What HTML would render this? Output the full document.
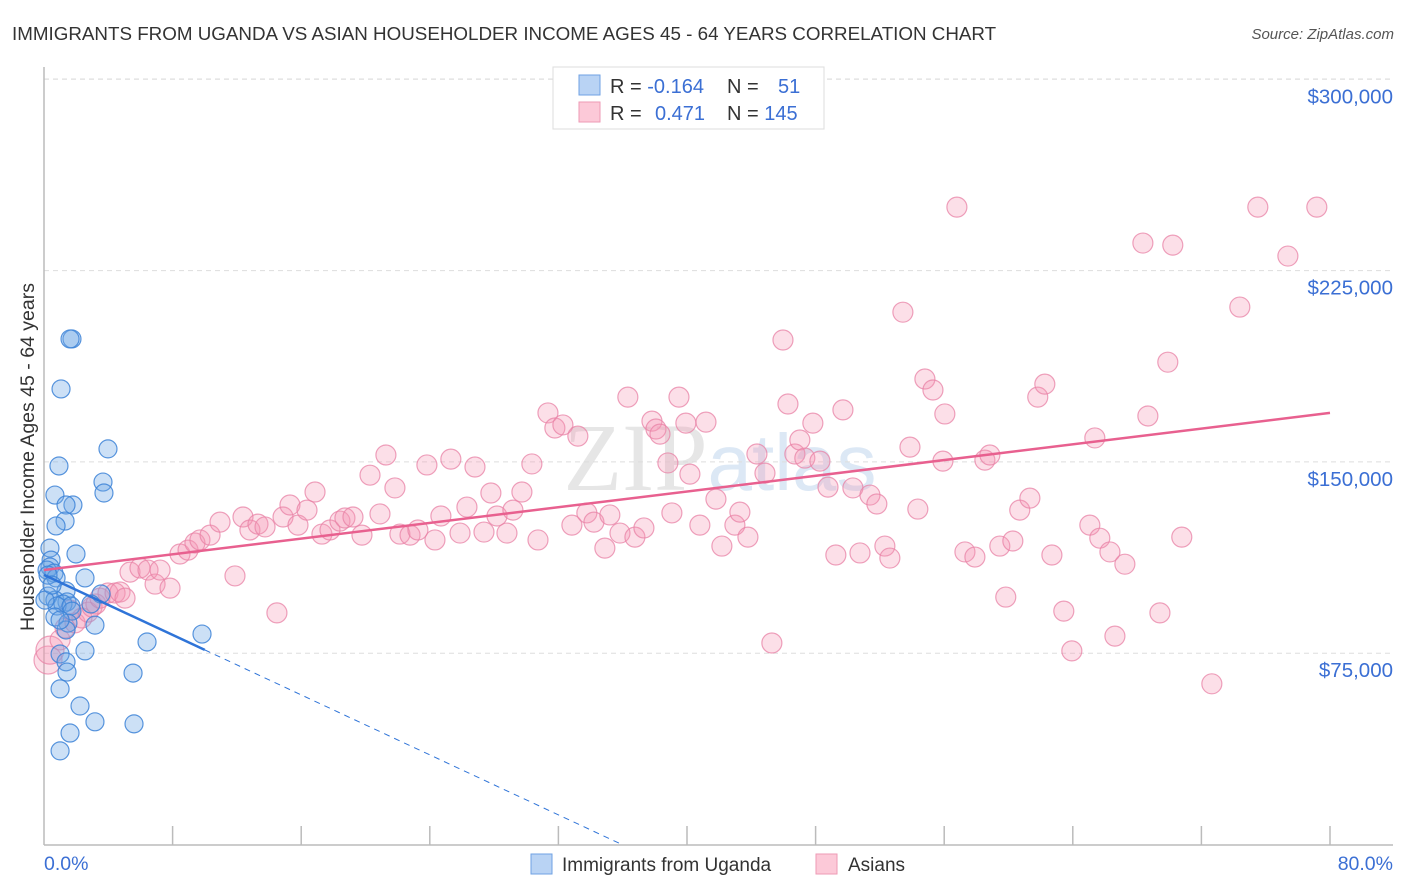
<!DOCTYPE html>
<html><head><meta charset="utf-8"><style>
body{margin:0;background:#fff;font-family:"Liberation Sans",sans-serif;}
svg{display:block}
</style></head><body>
<svg id="chart" width="1406" height="892">
<text x="12" y="40" font-size="18.8" fill="#333">IMMIGRANTS FROM UGANDA VS ASIAN HOUSEHOLDER INCOME AGES 45 - 64 YEARS CORRELATION CHART</text>
<text x="1394" y="39" font-size="15" fill="#555" font-style="italic" text-anchor="end">Source: ZipAtlas.com</text>
<text x="720" y="490" font-size="96" fill="#e6e6e6" text-anchor="middle" font-family="Liberation Serif, serif">ZIP<tspan fill="#dce8f5" font-family="Liberation Sans, sans-serif" font-size="80">atlas</tspan></text>
<g id="grid"></g>
<g id="axes"></g>
<g id="pts"></g>
<g id="trend"></g>
<text transform="translate(34,457) rotate(-90)" font-size="19.5" fill="#333" text-anchor="middle">Householder Income Ages 45 - 64 years</text>
<text x="44" y="870" font-size="19.5" fill="#3b6fd4">0.0%</text>
<text x="1393" y="870" font-size="19.5" fill="#3b6fd4" text-anchor="end">80.0%</text>
<g>
<rect x="553" y="67" width="271" height="62" fill="#fff" stroke="#ddd"/>
<rect x="579" y="75" width="21" height="20" fill="#b9d3f4" stroke="#6fa1e3"/>
<rect x="579" y="102" width="21" height="20" fill="#fcc9d8" stroke="#ee9ab5"/>
<text x="610" y="93" font-size="20" fill="#333">R = <tspan fill="#3b6fd4">-0.164</tspan></text>
<text x="727" y="93" font-size="20" fill="#333">N = <tspan fill="#3b6fd4" x="778">51</tspan></text>
<text x="610" y="120" font-size="20" fill="#333">R = <tspan fill="#3b6fd4" x="655">0.471</tspan></text>
<text x="727" y="120" font-size="20" fill="#333">N = <tspan fill="#3b6fd4">145</tspan></text>
</g>
<g>
<rect x="531" y="854" width="21" height="20" fill="#b9d3f4" stroke="#6fa1e3"/>
<text x="562" y="871" font-size="19" fill="#333">Immigrants from Uganda</text>
<rect x="816" y="854" width="21" height="20" fill="#fcc9d8" stroke="#ee9ab5"/>
<text x="848" y="871" font-size="19" fill="#333">Asians</text>
</g>
</svg>
<script>
const yTicks=[75000,150000,225000,300000];
const yTickLabels=["$75,000","$150,000","$225,000","$300,000"];
const blueX=[1.74,1.62,1.06,3.98,0.93,3.67,3.73,0.68,1.80,1.37,1.31,0.75,0.37,1.99,0.44,0.37,0.19,0.62,2.55,0.75,1.37,3.55,0.25,0.68,1.43,2.92,1.18,0.81,1.68,1.74,0.68,1.49,3.17,1.37,9.83,6.41,2.55,1.00,1.37,1.43,5.54,1.00,2.24,3.17,5.60,1.62,1.00,1.00,0.06,0.25,0.50];
const blueY=[198.2,198.2,178.6,155.1,148.4,142.1,137.8,137.0,133.1,133.1,126.8,124.9,116.2,113.9,111.5,108.8,107.6,106.4,104.5,104.5,99.4,98.2,97.4,95.8,95.1,94.3,94.3,93.5,93.5,91.5,89.2,86.8,86.0,84.1,82.5,79.4,75.9,74.7,71.6,67.6,67.2,61.0,54.3,48.1,47.3,43.7,36.7,88.0,95.8,105.6,101.7];
const pinkX=[0.25,0.37,1.0,1.31,1.62,1.93,2.36,2.74,2.99,3.23,3.48,3.98,4.42,4.73,5.04,5.35,5.97,6.47,6.91,7.22,7.84,8.46,8.96,9.39,9.70,10.33,10.95,11.88,12.38,12.81,13.31,13.75,14.49,14.87,15.30,15.80,16.36,16.86,17.29,17.79,18.41,18.72,19.22,19.78,20.28,20.90,21.27,21.83,22.14,22.77,23.26,23.82,24.32,24.69,25.31,25.88,26.31,26.81,27.37,27.80,28.18,28.80,29.17,29.73,30.35,30.73,31.35,31.78,32.28,32.84,33.21,33.77,34.21,34.89,35.20,35.83,36.32,36.76,37.32,37.82,38.07,38.32,38.81,39.06,39.50,39.93,40.18,40.80,41.18,41.80,42.17,42.98,43.29,43.79,44.35,44.85,45.28,45.97,46.28,46.71,47.02,47.33,47.83,48.27,48.77,49.26,49.70,50.32,50.76,51.38,51.81,52.31,52.62,53.43,53.87,54.36,54.80,55.30,55.92,56.04,56.79,57.29,57.91,58.53,58.84,59.46,59.83,60.27,60.70,61.33,61.82,62.26,62.70,63.44,63.94,65.37,65.06,65.68,66.31,66.62,67.24,68.36,68.67,69.42,69.91,70.22,70.78,72.65,74.39,75.51,77.38,79.18];
const pinkY=[72.3,76.2,80.2,84.9,91.9,86.9,88.8,91.1,93.1,94.3,96.6,98.6,98.6,99.0,96.6,106.8,108.4,107.6,102.1,107.6,100.5,113.9,115.4,118.2,119.4,121.3,126.4,105.3,128.4,123.3,125.6,124.5,90.8,128.4,133.1,125.2,131.1,138.2,121.7,123.3,126.8,128.0,128.4,121.3,144.8,129.6,152.7,139.8,121.7,121.3,123.3,148.8,119.4,128.8,151.1,122.1,132.3,148.0,122.5,137.8,128.8,122.1,131.1,138.2,149.2,119.4,169.2,163.3,164.5,125.2,160.1,130.0,126.4,116.2,129.2,122.1,175.4,120.5,124.1,166.0,162.9,160.9,149.6,130.0,175.4,165.2,145.2,125.2,165.6,135.4,117.0,125.2,130.3,120.5,153.1,145.6,79.0,197.8,172.7,153.1,158.6,151.5,165.2,150.3,140.1,113.5,170.4,139.8,114.3,137.0,133.5,117.0,112.3,208.7,155.8,131.5,182.5,178.2,150.3,168.8,249.9,114.7,112.7,150.7,152.7,117.0,97.0,119.0,131.1,135.8,175.4,180.5,113.5,91.5,75.9,159.4,125.2,120.1,114.7,81.7,109.9,235.8,168.0,90.8,189.1,235.0,120.5,63.0,210.7,249.9,230.7,249.9];
const blueTrend=[105.7,-2.94];
const pinkTrend=[107.6,0.77];

const NS="http://www.w3.org/2000/svg";
const X0=44,X1=1330,Y0=844.5,YPER=191.3/75000;
const sx=v=>X0+(v/80)*(X1-X0);
const sy=v=>Y0-v*YPER;
function mk(tag,attrs,parent){const e=document.createElementNS(NS,tag);for(const k in attrs)e.setAttribute(k,attrs[k]);parent.appendChild(e);return e;}
const grid=document.getElementById('grid'),axes=document.getElementById('axes'),pts=document.getElementById('pts'),tr=document.getElementById('trend');
yTicks.forEach((t,i)=>{
 const l=mk('line',{x1:44,x2:1393,y1:sy(t),y2:sy(t),stroke:'#ddd','stroke-dasharray':'5,4'},grid);
 
 
 const tx=mk('text',{x:1393,y:sy(t)+24,'font-size':20.5,fill:'#3b6fd4','text-anchor':'end'},grid);
 tx.textContent=yTickLabels[i];
 
 
});
const topLine=mk('line',{x1:44,x2:1393,y1:79,y2:79,stroke:'#ddd','stroke-dasharray':'5,4'},grid);


const ya=mk('line',{x1:44,x2:44,y1:67,y2:845,stroke:'#bbb','stroke-width':1.5},axes);


const xa=mk('line',{x1:44,x2:1393,y1:845,y2:845,stroke:'#bbb','stroke-width':1.5},axes);


for(let i=1;i<=10;i++){const t=mk('line',{x1:sx(i*8),x2:sx(i*8),y1:826,y2:845,stroke:'#bbb','stroke-width':1.5},axes);
 
 }
pinkX.forEach((v,i)=>{const c=mk('circle',{cx:sx(v),cy:sy(pinkY[i]*1000),r:i<2?14:10,fill:'rgba(244,150,180,0.3)',stroke:'rgba(232,130,165,0.75)','stroke-width':1.2},pts);
 
 });
blueX.forEach((v,i)=>{const c=mk('circle',{cx:sx(v),cy:sy(blueY[i]*1000),r:9,fill:'rgba(110,165,230,0.35)',stroke:'rgba(60,130,215,0.85)','stroke-width':1.2},pts);
 
 });
const by=x=>(blueTrend[0]+blueTrend[1]*x)*1000;
const b1=mk('line',{x1:sx(0),y1:sy(by(0)),x2:sx(10),y2:sy(by(10)),stroke:'#2f74d8','stroke-width':2.5},tr);


const xz=-blueTrend[0]/blueTrend[1];
const b2=mk('line',{x1:sx(10),y1:sy(by(10)),x2:sx(xz),y2:sy(0),stroke:'#2f74d8','stroke-width':1,'stroke-dasharray':'6,5'},tr);


const py=x=>(pinkTrend[0]+pinkTrend[1]*x)*1000;
const p1=mk('line',{x1:sx(0),y1:sy(py(0)),x2:sx(80),y2:sy(py(80)),stroke:'#e8608f','stroke-width':2.5},tr);


</script>
</body></html>
